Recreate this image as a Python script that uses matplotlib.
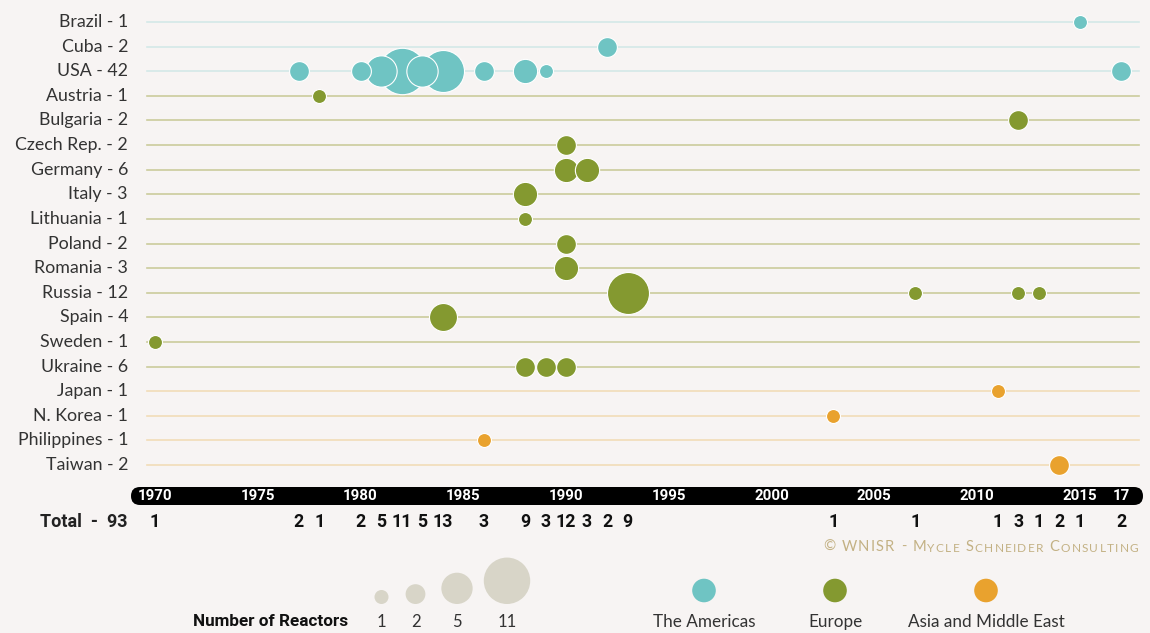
import numpy as np
import matplotlib
matplotlib.use("Agg")
import matplotlib.pyplot as plt
from matplotlib.patches import FancyBboxPatch
import matplotlib.transforms as mtransforms

# rows, top to bottom
countries = ["Brazil", "Cuba", "USA", "Austria", "Bulgaria", "Czech Rep.", "Germany",
             "Italy", "Lithuania", "Poland", "Romania", "Russia", "Spain", "Sweden",
             "Ukraine", "Japan", "N. Korea", "Philippines", "Taiwan"]
regions = ["Americas"] * 3 + ["Europe"] * 12 + ["Asia"] * 4

# closures: country, year, number of reactors
ev_country = ["Brazil", "Cuba",
              "USA", "USA", "USA", "USA", "USA", "USA", "USA", "USA", "USA", "USA",
              "Austria", "Bulgaria", "Czech Rep.", "Germany", "Germany", "Italy",
              "Lithuania", "Poland", "Romania",
              "Russia", "Russia", "Russia", "Russia",
              "Spain", "Sweden", "Ukraine", "Ukraine", "Ukraine",
              "Japan", "N. Korea", "Philippines", "Taiwan"]
ev_year = [2015, 1992,
           1977, 1980, 1981, 1982, 1983, 1984, 1986, 1988, 1989, 2017,
           1978, 2012, 1990, 1990, 1991, 1988,
           1988, 1990, 1990,
           1993, 2007, 2012, 2013,
           1984, 1970, 1988, 1989, 1990,
           2011, 2003, 1986, 2014]
ev_count = [1, 2,
            2, 2, 5, 11, 5, 9, 2, 3, 1, 2,
            1, 2, 2, 3, 3, 3,
            1, 2, 3,
            9, 1, 1, 1,
            4, 1, 2, 2, 2,
            1, 1, 1, 2]

axis_years = [1970, 1975, 1980, 1985, 1990, 1995, 2000, 2005, 2010, 2015, 2017]
axis_labels = ["1970", "1975", "1980", "1985", "1990", "1995", "2000", "2005", "2010", "2015", "17"]
legend_sizes = [1, 2, 5, 11]

BG = "#f7f4f3"
colors = {"Americas": "#6fc4c3", "Europe": "#849930", "Asia": "#e9a22e"}
line_colors = {"Americas": "#d4e9e8", "Europe": "#cbcc9c", "Asia": "#f2dcb8"}
region_names = {"Americas": "The Americas", "Europe": "Europe", "Asia": "Asia and Middle East"}

W, H = 1150, 633
fig = plt.figure(figsize=(W / 100, H / 100), dpi=100, facecolor=BG)

# pixel overlay for decorations
ov = fig.add_axes([0, 0, 1, 1])
ov.set_xlim(0, W)
ov.set_ylim(H, 0)
ov.axis("off")

# main chart
left_px, right_px, top_px, bot_px = 145, 1140, 9, 478.5
ax = fig.add_axes([left_px / W, 1 - bot_px / H, (right_px - left_px) / W, (bot_px - top_px) / H])
ax.set_facecolor("none")
px_per_year = (1121 - 155) / (2017 - 1970)
ax.set_xlim(1970 - (155 - left_px) / px_per_year, 1970 + (right_px - 155) / px_per_year)
ax.set_ylim(len(countries) - 0.45, -0.53)
ax.axis("off")

r1_pt = 7.0 * 0.72  # radius of one reactor, points
def area(n):
    return (2 * r1_pt) ** 2 * np.asarray(n)

totals = {c: 0 for c in countries}
for c, n in zip(ev_country, ev_count):
    totals[c] += n

lab_tr = mtransforms.blended_transform_factory(ov.transData, ax.transData)
for i, (c, reg) in enumerate(zip(countries, regions)):
    ax.axhline(i, xmin=0.002, xmax=0.999, color=line_colors[reg], lw=1.2, zorder=1)
    ax.text(128, i, f"{c} - {totals[c]}", transform=lab_tr,
            ha="right", va="center", fontsize=12.8, family="Lato",
            color="#333333")

ys = np.array([countries.index(c) for c in ev_country])
cols = [colors[regions[countries.index(c)]] for c in ev_country]
order = np.argsort(-np.array(ev_count), kind="stable")
for k in order:
    ax.scatter(ev_year[k], ys[k], s=area(ev_count[k]), color=cols[k],
               edgecolor="white", linewidth=0.8, zorder=3)

# timeline bar
ov.add_patch(FancyBboxPatch((131, 487), 1012, 18, boxstyle="round,pad=0,rounding_size=9",
                            facecolor="black", edgecolor="none"))
tr = mtransforms.blended_transform_factory(ax.transData, fig.transFigure)
for yr, lab in zip(axis_years, axis_labels):
    fig.text(yr, 1 - 496 / H, lab, transform=tr, ha="center", va="center",
             color="white", fontsize=10.8, family="Roboto", fontweight="bold")

# totals per year
year_tot = {}
for y, n in zip(ev_year, ev_count):
    year_tot[y] = year_tot.get(y, 0) + n
for y in sorted(year_tot):
    fig.text(y, 1 - 522 / H, str(year_tot[y]), transform=tr, ha="center", va="center",
             color="#111111", fontsize=12.8, family="Roboto", fontweight="bold")
ov.text(127, 522, f"Total  -  {sum(ev_count)}", ha="right", va="center",
        fontsize=13, family="Roboto", fontweight="bold", color="#222222")

# copyright in small caps, with tracking
cr = "© WNISR - Mycle Schneider Consulting"
prev = None
for ch in cr:
    small = ch.islower()
    fs = 8.6 if small else 10.6
    txt = ch.upper()
    if prev is None:
        prev = ov.text(823, 551, txt, ha="left", va="baseline", fontsize=fs,
                       family="Lato", color="#c3b184")
    else:
        prev = ov.annotate(txt, xy=(1, 0), xycoords=prev, xytext=(0.9, 0),
                           textcoords="offset points", ha="left", va="bottom",
                           fontsize=fs, family="Lato", color="#c3b184")

# size legend
ov.text(348, 621, "Number of Reactors", ha="right", va="center", fontsize=12.3,
        family="Roboto", fontweight="bold", color="#111111")
leg_x = [381.5, 415.5, 457, 507]
for x, n in zip(leg_x, legend_sizes):
    r = 7.0 * np.sqrt(n)
    ov.scatter(x, 604 - r, s=area(n), color="#d8d5c8", edgecolor="none")
    ov.text(x, 622, str(n), ha="center", va="center", fontsize=12, family="Lato",
            color="#333333")

# region legend
for x, reg in zip([704, 835, 986], ["Americas", "Europe", "Asia"]):
    ov.scatter(x, 590.5, s=(2 * 11.8 * 0.72) ** 2, color=colors[reg], edgecolor="none")
    ov.text(x, 622, region_names[reg], ha="center", va="center", fontsize=12.3,
            family="Lato", color="#333333")

fig.savefig("out.png", dpi=100, facecolor=BG)
